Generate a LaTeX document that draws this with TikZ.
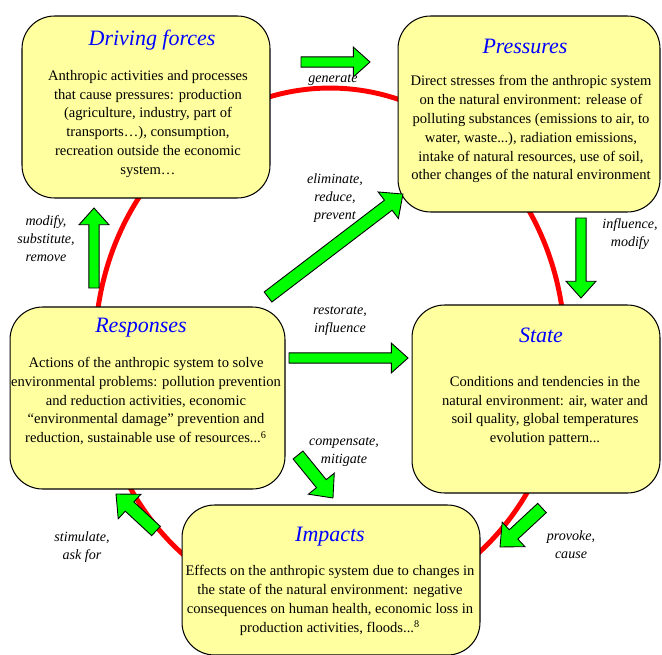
\documentclass[tikz,border=0pt]{standalone}
\usepackage{fontspec}
\setmainfont{Liberation Serif}
\usetikzlibrary{calc}
\definecolor{boxyellow}{RGB}{255,255,160}
\definecolor{arrowgreen}{RGB}{0,255,0}
\definecolor{cyclered}{RGB}{255,0,0}
\definecolor{titleblue}{RGB}{0,0,255}

\begin{document}
\begin{tikzpicture}[x=0.02cm,y=-0.02cm,
  flow shaft/.initial=2.9pt, flow head/.initial=8.5pt, flow tip/.initial=9.5pt,
  box/.style={draw=black, fill=boxyellow, rounded corners=0.65cm, line width=0.6pt},
  title/.style={font=\fontsize{12.5}{14}\selectfont\itshape, text=titleblue, inner sep=0pt},
  body/.style={font=\fontsize{8.3}{10.8}\selectfont, align=center, inner sep=0pt},
  verb/.style={font=\fontsize{8}{10.2}\selectfont\itshape, align=center, inner sep=0pt},
  wide/.style={flow shaft=3.6pt, flow head=9.5pt, flow tip=10.5pt},
  flow/.style={draw=black, fill=arrowgreen, line width=0.5pt, line join=miter,
    to path={
      let \p1=(\tikztostart), \p2=(\tikztotarget),
          \n1={atan2(\y2-\y1,\x2-\x1)}, \n2={veclen(\x2-\x1,\y2-\y1)},
          \n3={\pgfkeysvalueof{/tikz/flow shaft}}, \n4={\pgfkeysvalueof{/tikz/flow head}},
          \n5={\pgfkeysvalueof{/tikz/flow tip}} in
      ([shift={(\p1)},rotate=\n1]0pt,-\n3)
      -- ([shift={(\p1)},rotate=\n1]\n2-\n5,-\n3)
      -- ([shift={(\p1)},rotate=\n1]\n2-\n5,-\n4)
      -- ([shift={(\p1)},rotate=\n1]\n2,0pt)
      -- ([shift={(\p1)},rotate=\n1]\n2-\n5,\n4)
      -- ([shift={(\p1)},rotate=\n1]\n2-\n5,\n3)
      -- ([shift={(\p1)},rotate=\n1]0pt,\n3) -- cycle}}]
\useasboundingbox (0,0) rectangle (662,655);

% the red loop behind the boxes
\draw[cyclered, line width=2.8pt] (330,350) ellipse [x radius=4.7cm, y radius=5.24cm];

% boxes
\node[box, minimum width=4.96cm, minimum height=3.64cm] (df) at (146,107) {};
\node[box, minimum width=5.24cm, minimum height=3.92cm] (pr) at (529,114) {};
\node[box, minimum width=5.5cm, minimum height=3.64cm] (re) at (147.5,398) {};
\node[box, minimum width=4.96cm, minimum height=3.76cm] (st) at (536,399) {};
\node[box, minimum width=5.96cm, minimum height=3.0cm] (im) at (331,580) {};

% titles
\node[title] (df-t) at (152,40) {Driving forces};
\node[title] (pr-t) at (525,46) {Pressures};
\node[title] (re-t) at (141,328) {Responses};
\node[title] (st-t) at (541,335) {State};
\node[title] (im-t) at (330,537) {Impacts};

% texts
\node[body] (df-b) at (148,124) {Anthropic activities and processes\\
  that cause pressures: production\\ (agriculture, industry, part of\\
  transports\dots), consumption,\\ recreation outside the economic\\ system\dots};
\node[body] (pr-b) at (531,129) {Direct stresses from the anthropic system\\
  on the natural environment: release of\\ polluting substances (emissions to air, to\\
  water, waste...), radiation emissions,\\ intake of natural resources, use of soil,\\
  other changes of the natural environment};
\node[body] (re-b) at (146,401) {Actions of the anthropic system to solve\\
  environmental problems: pollution prevention\\ and reduction activities, economic\\
  ``environmental damage'' prevention and\\ reduction, sustainable use of resources...\textsuperscript{6}};
\node[body] (st-b) at (545,411) {Conditions and tendencies in the\\
  natural environment: air, water and\\ soil quality, global temperatures\\ evolution pattern...};
\node[body] (im-b) at (330,600) {Effects on the anthropic system due to changes in\\
  the state of the natural environment: negative\\ consequences on human health, economic loss in\\
  production activities, floods...\textsuperscript{8}};

% verbs on the arrows
\node[verb] (gen-l) at (333,80) {generate};
\node[verb] (inf-l) at (630,234) {influence,\\ modify};
\node[verb] (mod-l) at (46,239) {modify,\\ substitute,\\ remove};
\node[verb] (eli-l) at (335,198) {eliminate,\\ reduce,\\ prevent};
\node[verb] (res-l) at (340,321) {restorate,\\ influence};
\node[verb] (com-l) at (344,452) {compensate,\\ mitigate};
\node[verb] (sti-l) at (82,547) {stimulate,\\ ask for};
\node[verb] (pro-l) at (571,545) {provoke,\\ cause};

% arrow ends
\coordinate (gen-a) at (301,62);  \coordinate (gen-b) at (370,62);
\coordinate (inf-a) at (581,218); \coordinate (inf-b) at (581,298);
\coordinate (mod-a) at (94,288);  \coordinate (mod-b) at (94,208);
\coordinate (eli-a) at (268,297); \coordinate (eli-b) at (403,194);
\coordinate (res-a) at (289,358); \coordinate (res-b) at (408,358);
\coordinate (com-a) at (298,455); \coordinate (com-b) at (333,498);
\coordinate (sti-a) at (156,531); \coordinate (sti-b) at (116,494);
\coordinate (pro-a) at (542,508); \coordinate (pro-b) at (500,547);

\draw[flow] (gen-a) to (gen-b);
\draw[flow] (inf-a) to (inf-b);
\draw[flow] (mod-a) to (mod-b);
\draw[flow, wide] (eli-a) to (eli-b);
\draw[flow] (res-a) to (res-b);
\draw[flow, wide] (com-a) to (com-b);
\draw[flow, wide] (sti-a) to (sti-b);
\draw[flow, wide] (pro-a) to (pro-b);
\end{tikzpicture}
\end{document}
